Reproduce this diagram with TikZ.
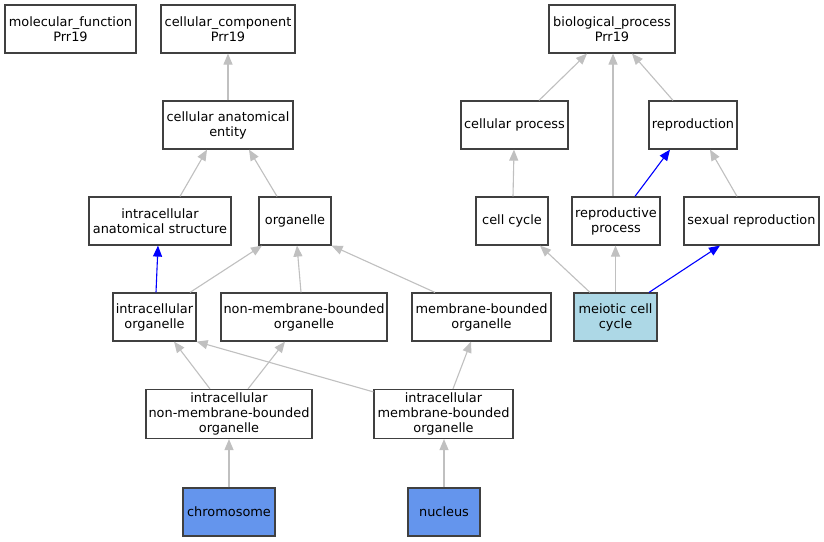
\documentclass[tikz,border=0pt]{standalone}
\usepackage{fontspec}
\setmainfont{DejaVu Sans}
\usetikzlibrary{arrows.meta}
\definecolor{edgegray}{HTML}{C0C0C0}
\definecolor{boxborder}{HTML}{404040}
\definecolor{lblue}{HTML}{ADD8E6}
\definecolor{cblue}{HTML}{6495ED}
\tikzset{
  box/.style={draw=boxborder, line width=1.2pt, fill=white, rectangle, minimum height=48pt, inner sep=0pt, align=center, font=\fontsize{12.9}{15}\selectfont},
  e/.style={draw=edgegray, line width=1.1pt, -{Triangle[length=11pt,width=9pt]}},
  eb/.style={draw=blue, line width=1.1pt, -{Triangle[length=11pt,width=9pt]}},
}
\begin{document}
\begin{tikzpicture}[x=1pt,y=-1pt]
\useasboundingbox (0,0) rectangle (824,541);
\fill[white] (0,0) rectangle (824,541);
% nodes
\node[box, minimum width=131pt] (mf) at (70.5,29) {molecular\_function\\Prr19};
\node[box, minimum width=134pt] (ccomp) at (228,29) {cellular\_component\\Prr19};
\node[box, minimum width=126pt] (bio) at (612,29) {biological\_process\\Prr19};
\node[box, minimum width=130pt] (cae) at (228,125) {cellular anatomical\\entity};
\node[box, minimum width=107pt] (cp) at (514.5,125) {cellular process};
\node[box, minimum width=88pt] (rep) at (693,125) {reproduction};
\node[box, minimum width=142pt] (ias) at (160,221) {intracellular\\anatomical structure};
\node[box, minimum width=72pt] (org) at (295,221) {organelle};
\node[box, minimum width=72pt] (ccyc) at (512,221) {cell cycle};
\node[box, minimum width=88pt] (rp) at (616,221) {reproductive\\process};
\node[box, minimum width=135pt] (sr) at (751.5,221) {sexual reproduction};
\node[box, minimum width=83pt] (io) at (154.5,317) {intracellular\\organelle};
\node[box, minimum width=166pt] (nmbo) at (304,317) {non-membrane-bounded\\organelle};
\node[box, minimum width=139pt] (mbo) at (481.5,317) {membrane-bounded\\organelle};
\node[box, minimum width=83pt, fill=lblue] (mcc) at (615.5,317) {meiotic cell\\cycle};
\node[box, minimum width=166pt, minimum height=49pt] (inmbo) at (229,414) {intracellular\\non-membrane-bounded\\organelle};
\node[box, minimum width=139pt, minimum height=49pt] (imbo) at (443.5,414) {intracellular\\membrane-bounded\\organelle};
\node[box, minimum width=92pt, fill=cblue] (chr) at (229,512) {chromosome};
\node[box, minimum width=72pt, fill=cblue] (nuc) at (444,512) {nucleus};
% edges
\draw[e] (cae.north) -- (ccomp.south);
\draw[e] ([xshift=20pt]ias.north) -- ([xshift=-21pt]cae.south);
\draw[e] ([xshift=-18pt]org.north) -- ([xshift=21pt]cae.south);
\draw[eb] ([xshift=1.5pt]io.north) -- ([xshift=-2pt]ias.south);
\draw[e] ([xshift=35.5pt]io.north) -- ([xshift=-33pt]org.south);
\draw[e] ([xshift=-3pt]nmbo.north) -- ([xshift=2pt]org.south);
\draw[e] ([xshift=-46.5pt]mbo.north) -- (org.south east);
\draw[e] ([xshift=-19pt]inmbo.north) -- ([xshift=19.5pt]io.south);
\draw[e] ([xshift=19pt]inmbo.north) -- ([xshift=-19pt]nmbo.south);
\draw[e] ([yshift=-3pt]imbo.north west) -- (io.south east);
\draw[e] ([xshift=9.5pt]imbo.north) -- ([xshift=-10.5pt]mbo.south);
\draw[e] (chr.north) -- (inmbo.south);
\draw[e] (nuc.north) -- ([xshift=0.5pt]imbo.south);
\draw[e] ([xshift=24.5pt]cp.north) -- ([xshift=-25pt]bio.south);
\draw[e] ([xshift=-3pt]rp.north) -- ([xshift=1pt]bio.south);
\draw[e] ([xshift=-20pt]rep.north) -- ([xshift=20pt]bio.south);
\draw[e] ([xshift=1pt]ccyc.north) -- ([xshift=-0.5pt]cp.south);
\draw[eb] ([xshift=19pt]rp.north) -- ([xshift=-23pt]rep.south);
\draw[e] ([xshift=-14.5pt]sr.north) -- ([xshift=17pt]rep.south);
\draw[e] ([xshift=-25.5pt]mcc.north) -- ([xshift=28pt]ccyc.south);
\draw[e] (mcc.north) -- ([xshift=-0.5pt]rp.south);
\draw[eb] ([xshift=33.5pt]mcc.north) -- ([xshift=-31.5pt]sr.south);
\end{tikzpicture}
\end{document}
